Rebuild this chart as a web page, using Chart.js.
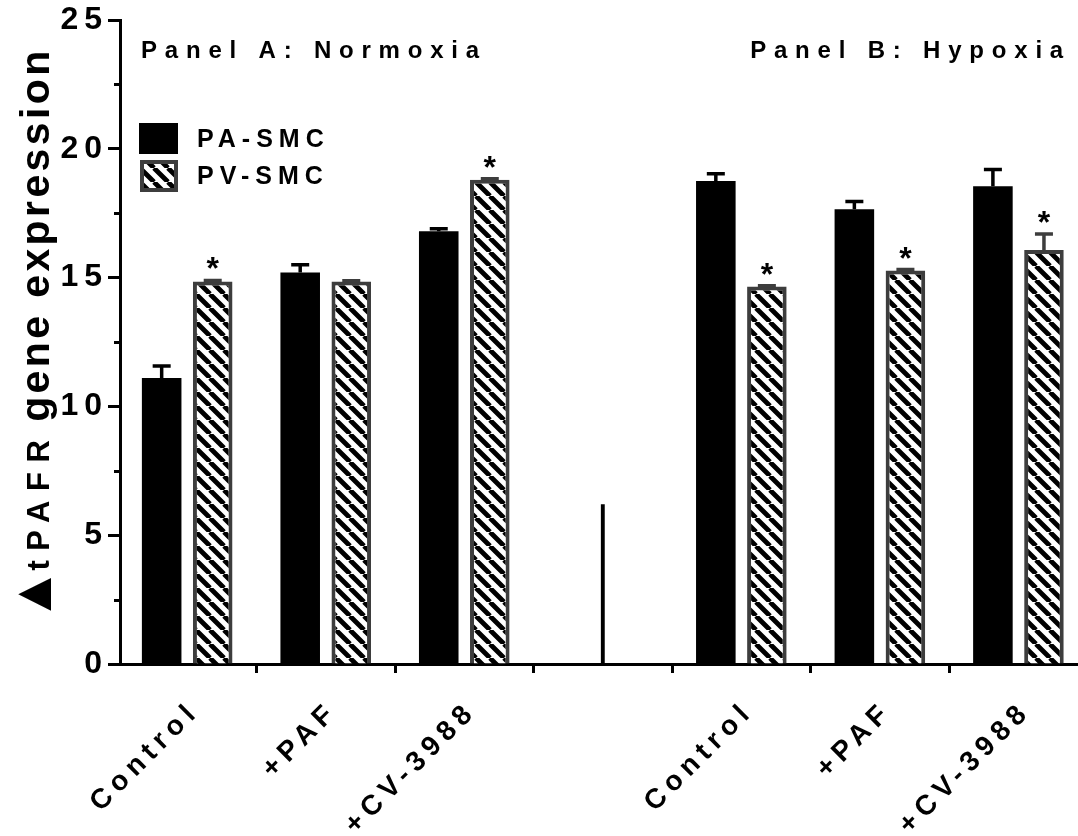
<!DOCTYPE html>
<html><head><meta charset="utf-8">
<script src="https://cdn.jsdelivr.net/npm/chart.js@4.4.1/dist/chart.umd.min.js"></script>
<style>html,body{margin:0;padding:0;background:#fff}canvas{display:block}</style>
</head><body>
<canvas id="c" width="1078" height="836"></canvas>
<script>
// ---- data ----
const CATEGORIES = ['Control', '+PAF', '+CV-3988', '', 'Control', '+PAF', '+CV-3988'];
const PA_SMC = [11.1, 15.2, 16.8, null, 18.75, 17.65, 18.55];
const PA_ERR = [0.47, 0.3, 0.1, null, 0.28, 0.3, 0.65];
const PV_SMC = [14.85, 14.85, 18.8, null, 14.65, 15.28, 16.07];
const PV_ERR = [0.04, 0.03, 0.04, null, 0.03, 0.03, 0.62];
const PV_SIGNIFICANT = [true, false, true, false, true, true, true];
const DIVIDER_HEIGHT = 6.2;
const SERIES_NAMES = ['PA-SMC', 'PV-SMC'];
const PANEL_TITLES = ['Panel A: Normoxia', 'Panel B: Hypoxia'];
const Y_TITLE_PARTS = ['\u25B2', 'tPAFR', ' gene expression'];

const FONT = "'Liberation Sans', Arial, Helvetica, sans-serif";
const GREY = '#3d3d3d';

function makeHatch() {
  const s = 14, c = document.createElement('canvas');
  c.width = c.height = s;
  const g = c.getContext('2d');
  g.fillStyle = '#fff'; g.fillRect(0, 0, s, s);
  g.strokeStyle = '#000'; g.lineWidth = 4.8;
  g.beginPath();
  for (const x0 of [-s, 0, s]) { g.moveTo(x0, 0); g.lineTo(x0 + s, s); }
  g.stroke();
  return document.getElementById('c').getContext('2d').createPattern(c, 'repeat');
}
const HATCH = makeHatch();

const toPoints = arr => arr.map((v, i) => ({ x: i, y: v }));

const errPlugin = {
  id: 'errbars',
  afterDatasetsDraw(chart) {
    const ctx = chart.ctx, ys = chart.scales.y;
    const sets = [[PA_SMC, PA_ERR, '#000'], [PV_SMC, PV_ERR, GREY]];
    sets.forEach(([vals, errs, col], di) => {
      const meta = chart.getDatasetMeta(di);
      meta.data.forEach((el, i) => {
        if (vals[i] == null) return;
        const yTop = ys.getPixelForValue(vals[i] + errs[i]);
        const yBar = ys.getPixelForValue(vals[i]);
        ctx.save();
        ctx.strokeStyle = col; ctx.lineWidth = 3.5;
        ctx.beginPath();
        ctx.moveTo(el.x, yBar); ctx.lineTo(el.x, yTop);
        ctx.moveTo(el.x - 9, yTop); ctx.lineTo(el.x + 9, yTop);
        ctx.stroke();
        if (di === 1 && PV_SIGNIFICANT[i]) {
          ctx.fillStyle = '#000';
          ctx.font = `bold 32px ${FONT}`;
          ctx.textAlign = 'center'; ctx.textBaseline = 'alphabetic';
          ctx.letterSpacing = '0px';
          ctx.fillText('*', el.x, yTop - 1);
        }
        ctx.restore();
      });
    });
  }
};

const decoPlugin = {
  id: 'deco',
  beforeDraw(chart) { chart.ctx.letterSpacing = '6px'; },
  afterDraw(chart) {
    const ctx = chart.ctx, a = chart.chartArea, ys = chart.scales.y;
    // minor y ticks
    ctx.save();
    ctx.strokeStyle = '#000'; ctx.lineWidth = 3;
    for (let v = 2.5; v < 25; v += 5) {
      const y = Math.round(ys.getPixelForValue(v)) + 0.5;
      ctx.beginPath(); ctx.moveTo(a.left - 6, y); ctx.lineTo(a.left, y); ctx.stroke();
    }
    ctx.restore();
    // panel titles
    ctx.save();
    ctx.fillStyle = '#000';
    ctx.font = `bold 24px ${FONT}`;
    ctx.letterSpacing = '7.8px';
    ctx.textBaseline = 'alphabetic';
    ctx.textAlign = 'left';
    ctx.fillText(PANEL_TITLES[0], a.left + 21, 58);
    ctx.textAlign = 'right';
    ctx.fillText(PANEL_TITLES[1], a.right - 7, 58);
    ctx.restore();
    // legend
    ctx.save();
    ctx.fillStyle = '#000';
    ctx.fillRect(a.left + 19, 123, 39, 31);
    ctx.fillStyle = GREY;
    ctx.fillRect(a.left + 20, 160, 38, 32);
    ctx.fillStyle = HATCH;
    ctx.fillRect(a.left + 24, 164, 30, 24);
    ctx.fillStyle = '#000';
    ctx.font = `bold 25px ${FONT}`;
    ctx.letterSpacing = '6px';
    ctx.textBaseline = 'middle'; ctx.textAlign = 'left';
    ctx.fillText(SERIES_NAMES[0], a.left + 77, 140);
    ctx.fillText(SERIES_NAMES[1], a.left + 77, 177);
    ctx.restore();
    // y title
    ctx.save();
    ctx.translate(49, 622);
    ctx.rotate(-Math.PI / 2);
    ctx.fillStyle = '#000';
    ctx.textAlign = 'left'; ctx.textBaseline = 'alphabetic';
    let x = 0;
    ctx.font = `bold 56px ${FONT}`; ctx.letterSpacing = '0px';
    ctx.fillText(Y_TITLE_PARTS[0], x, 2); x += ctx.measureText(Y_TITLE_PARTS[0]).width - 4;
    ctx.font = `bold 31px ${FONT}`; ctx.letterSpacing = '9.5px';
    ctx.fillText(Y_TITLE_PARTS[1], x, 0); x += ctx.measureText(Y_TITLE_PARTS[1]).width - 6;
    ctx.font = `bold 41px ${FONT}`; ctx.letterSpacing = '3.4px';
    ctx.fillText(Y_TITLE_PARTS[2], x, 0);
    ctx.restore();
  }
};

new Chart(document.getElementById('c'), {
  type: 'bar',
  data: {
    datasets: [
      { label: SERIES_NAMES[0], data: toPoints(PA_SMC), backgroundColor: '#000', borderWidth: 0,
        categoryPercentage: 0.737, barPercentage: 0.775 },
      { label: SERIES_NAMES[1], data: toPoints(PV_SMC), backgroundColor: HATCH, borderColor: GREY, borderWidth: 4,
        categoryPercentage: 0.737, barPercentage: 0.775 },
      { label: 'divider', data: [{ x: 3, y: DIVIDER_HEIGHT }], backgroundColor: '#000', borderWidth: 0,
        grouped: false, barPercentage: 0.028, categoryPercentage: 1 }
    ]
  },
  options: {
    responsive: false, animation: false, devicePixelRatio: 1,
    layout: { padding: { top: 20, right: 0, left: 0, bottom: 0 } },
    plugins: { legend: { display: false }, tooltip: { enabled: false } },
    scales: {
      x: {
        type: 'linear', min: -0.485, max: 6.43, offset: false,
        afterBuildTicks: s => { s.ticks = CATEGORIES.map((_, i) => ({ value: i })); },
        afterFit: s => { s.height = 172; },
        ticks: {
          autoSkip: false, minRotation: 45, maxRotation: 45, padding: 22, labelOffset: 8,
          color: '#000', font: { family: FONT, size: 28, weight: 'bold' },
          callback: (v, i) => CATEGORIES[i]
        },
        grid: { drawOnChartArea: false, tickLength: 9, tickWidth: 3, tickColor: '#000' },
        border: { display: true, width: 3, color: '#000' }
      },
      y: {
        min: 0, max: 25,
        afterFit: s => { s.width = 120; },
        ticks: {
          stepSize: 2.5, padding: 0, color: '#000',
          font: { family: FONT, size: 32, weight: 'bold' },
          callback: v => (v % 5 === 0 ? String(v) : '')
        },
        grid: { drawOnChartArea: false, tickLength: 12, tickWidth: 3,
          tickColor: c => (c.tick && c.tick.value % 5 === 0 ? '#000' : 'rgba(0,0,0,0)') },
        border: { display: true, width: 3, color: '#000' }
      }
    }
  },
  plugins: [decoPlugin, errPlugin]
});
</script>
</body></html>
